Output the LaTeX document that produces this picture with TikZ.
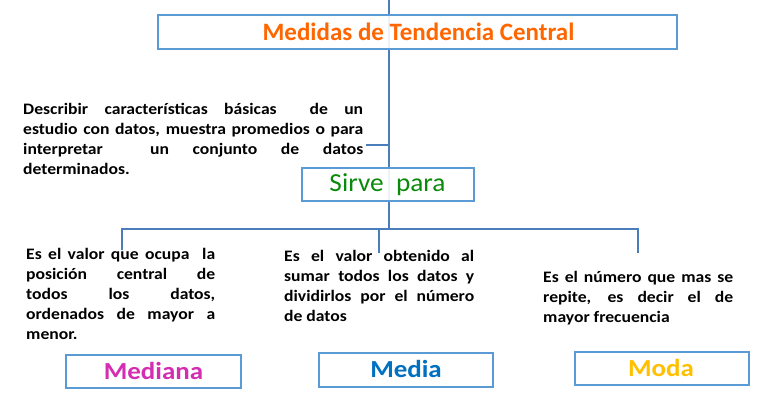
\documentclass[tikz,border=0pt]{standalone}
\usepackage{fontspec}
\setmainfont{Carlito}
\newfontfamily\widefont[FakeStretch=1.1]{Carlito}
\newfontfamily\semiwidefont[FakeStretch=1.05]{Carlito}
\definecolor{lineblue}{HTML}{4A7EBB}
\definecolor{boxblue}{HTML}{5B9BD5}
\definecolor{titleor}{HTML}{FF6600}
\definecolor{sirvegreen}{HTML}{0A8A0A}
\definecolor{medianacol}{HTML}{D42DB2}
\definecolor{mediacol}{HTML}{0070C0}
\definecolor{modacol}{HTML}{FFC000}
\tikzset{
  conn/.style={draw=lineblue, line width=1.3bp},
  mainconn/.style={draw=lineblue, line width=2bp},
  labelbox/.style={draw=boxblue, line width=1.2bp, fill=white, fill opacity=0.9, text opacity=1, inner sep=0pt},
  desc/.style={anchor=north west, inner sep=0pt, align=justify, font=\widefont\fontsize{16bp}{20bp}\selectfont\bfseries},
  boxlabel/.style={font=\widefont\fontsize{24.5bp}{30bp}\selectfont\bfseries},
}
\begin{document}
\begin{tikzpicture}[x=1bp,y=-1bp]
\useasboundingbox (0,0) rectangle (768,403);
% connectors
\coordinate (top) at (389,0);
\coordinate (bar) at (389,229);
\coordinate (barL) at (122,229);
\coordinate (barR) at (638,229);
\coordinate (endL) at (122,250);
\coordinate (endM) at (379,253);
\coordinate (endR) at (638,253);
\coordinate (midM) at (379,229);
\coordinate (descend) at (366,145);
\coordinate (descjoin) at (389,145);
\draw[mainconn] (top) -- (bar);
\draw[conn] (endL) -- (barL) -- (barR) -- (endR);
\draw[conn] (midM) -- (endM);
\draw[conn] (descend) -- (descjoin);
% boxes
\path[labelbox] (158,15) rectangle (677,49);
\node[text=titleor, font=\fontsize{25bp}{30bp}\selectfont\bfseries] (title) at (418.5,32) {Medidas de Tendencia Central};
\path[labelbox] (302,168) rectangle (474,201);
\node[text=sirvegreen, font=\semiwidefont\fontsize{26bp}{30bp}\selectfont] (sirve) at (387.5,184.5) {Sirve\ \ para};
\path[labelbox] (66,355) rectangle (241,388);
\node[text=medianacol, boxlabel] (mediana) at (153.5,370.5) {Mediana};
\path[labelbox] (319,353) rectangle (493,387);
\node[text=mediacol, boxlabel] (media) at (406,369) {Media};
\path[labelbox] (575,352) rectangle (749,385);
\node[text=modacol, boxlabel] (moda) at (661,367.5) {Moda};
% descriptions
\node[desc, text width=340bp] (d0) at (23,103) {Describir características básicas\ \ de un\linebreak estudio con datos, muestra promedios o para\linebreak interpretar\ \ un conjunto de datos\linebreak determinados.};
\node[desc, text width=189bp] (d1) at (26,248) {Es el valor que ocupa\ \ la\linebreak posición central de\linebreak todos los datos,\linebreak ordenados de mayor a\linebreak menor.};
\node[desc, text width=190bp] (d2) at (284,250) {Es el valor obtenido al\linebreak sumar todos los datos y\linebreak dividirlos por el número\linebreak de datos};
\node[desc, text width=190bp] (d3) at (543,271) {Es el número que mas se\linebreak repite, es decir el de\linebreak mayor frecuencia};
\end{tikzpicture}
\end{document}
